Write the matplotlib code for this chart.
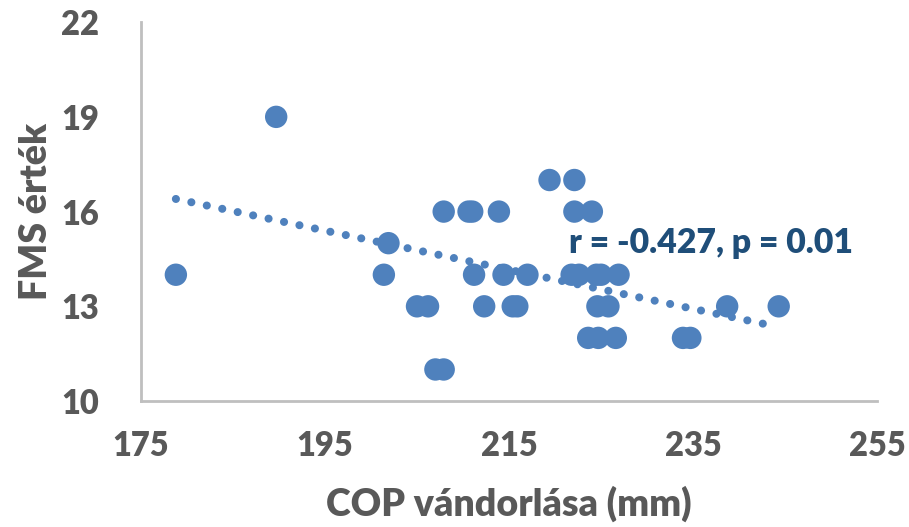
import numpy as np
import matplotlib.pyplot as plt

# COP wandering (mm) vs FMS score
cop_mm = [178.8, 189.7, 201.4, 201.9, 205.0, 206.2, 207.0, 207.9, 207.9,
          210.6, 211.0, 211.2, 212.3, 213.9, 214.4, 215.4, 215.9, 217.0,
          219.4, 222.1, 222.1, 224.0, 221.8, 222.6, 224.5, 225.0, 226.9,
          224.6, 225.8, 223.6, 224.7, 226.6, 233.9, 234.7, 238.7, 244.3]
fms = [14, 19, 14, 15, 13, 13, 11, 11, 16,
       16, 16, 14, 13, 16, 14, 13, 13, 14,
       17, 17, 16, 16, 14, 14, 14, 14, 14,
       13, 13, 12, 12, 12, 12, 12, 13, 13]

# trendline end points as drawn in the reference
trend_x = [178.8, 243.4]
trend_y = [16.4, 12.4]

x_ticks = [175, 195, 215, 235, 255]
y_ticks = [10, 13, 16, 19, 22]
note = "r = -0.427, p = 0.01"

plt.rcParams["font.family"] = ["Lato", "DejaVu Sans"]
plt.rcParams["font.weight"] = "heavy"

fig = plt.figure(figsize=(9.09, 5.27), dpi=100)
ax = fig.add_axes([0.155, 0.239, 0.81, 0.719])

ax.scatter(cop_mm, fms, s=260, color="#4F81BD", edgecolors="none", zorder=3)

ax.plot(trend_x, trend_y, color="#4F81BD", lw=5.8,
        linestyle=(0, (0.01, 1.95)), dash_capstyle="round", zorder=2)

ax.text(221.5, 15.0, note, color="#1F4E79", fontsize=24.3, fontweight="heavy",
        va="center", ha="left", zorder=4)

ax.set_xlim(175, 255)
ax.set_ylim(10, 22)
ax.set_xticks(x_ticks)
ax.set_yticks(y_ticks)
ax.tick_params(length=0, labelsize=23.5, labelcolor="#595959")
ax.tick_params(axis="x", pad=21)
ax.tick_params(axis="y", pad=30)
for lbl in ax.get_xticklabels() + ax.get_yticklabels():
    lbl.set_fontweight("heavy")
for side in ["top", "right"]:
    ax.spines[side].set_visible(False)
for side in ["left", "bottom"]:
    ax.spines[side].set_color("#BFBFBF")
    ax.spines[side].set_linewidth(2)

ax.set_xlabel("COP vándorlása (mm)", fontsize=27, color="#595959",
              fontweight="heavy", labelpad=17)
ax.set_ylabel("FMS érték", fontsize=27, color="#595959",
              fontweight="heavy", labelpad=6)

fig.savefig("out.png", dpi=100)
